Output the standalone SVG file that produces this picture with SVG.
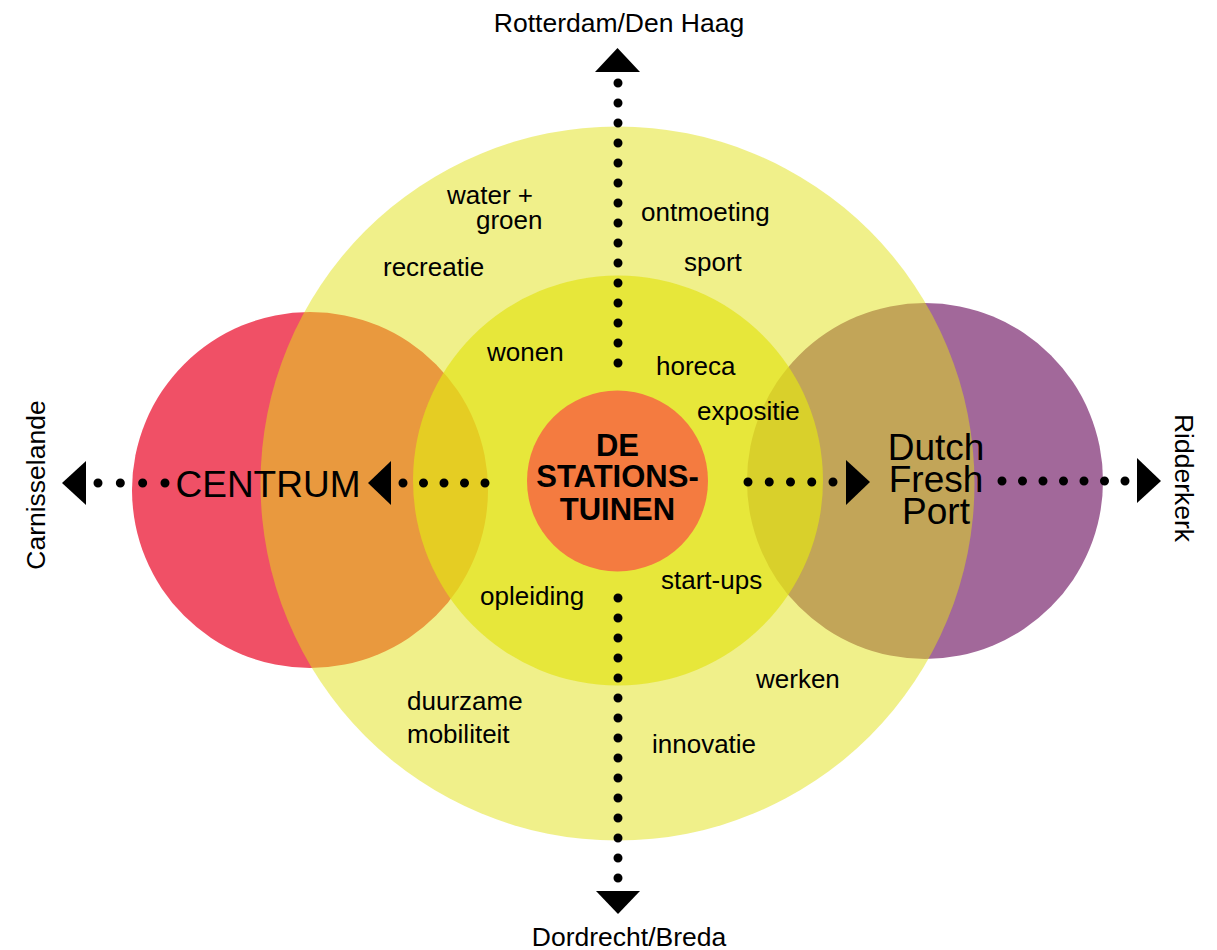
<svg xmlns="http://www.w3.org/2000/svg" width="1217" height="950" viewBox="0 0 1217 950">
<style>
text{font-family:"Liberation Sans",Arial,sans-serif;fill:#000}
.lbl{font-size:26px}
.end{font-size:26.5px}
.big{font-size:37px;text-anchor:middle}
.ctr{font-size:31px;font-weight:bold;text-anchor:middle}
.dots{stroke:#000;stroke-width:9;stroke-linecap:round;fill:none}
.head{fill:#000}
</style>
<rect width="1217" height="950" fill="#fff"/>
<g id="centrum">
<circle cx="310" cy="490" r="178" fill="#F05066"/>
</g>
<g id="dutch-fresh-port">
<circle cx="925" cy="481" r="178" fill="#A2689A"/>
</g>
<g id="outer-ring">
<circle cx="617.5" cy="483.5" r="357" fill="#E1E115" fill-opacity="0.5"/>
<text class="lbl" x="447" y="204">water +</text>
<text class="lbl" x="476" y="229">groen</text>
<text class="lbl" x="383" y="276">recreatie</text>
<text class="lbl" x="641" y="221">ontmoeting</text>
<text class="lbl" x="684" y="271">sport</text>
<text class="lbl" x="407" y="710">duurzame</text>
<text class="lbl" x="407" y="743">mobiliteit</text>
<text class="lbl" x="652" y="753">innovatie</text>
<text class="lbl" x="756" y="688">werken</text>
</g>
<g id="inner-ring">
<circle cx="618" cy="480.5" r="205" fill="#E3E318" fill-opacity="0.7"/>
<text class="lbl" x="487" y="361">wonen</text>
<text class="lbl" x="656" y="375">horeca</text>
<text class="lbl" x="697" y="420">expositie</text>
<text class="lbl" x="480" y="605">opleiding</text>
<text class="lbl" x="661" y="589">start-ups</text>
</g>
<g id="de-stationstuinen">
<circle cx="617.5" cy="481" r="90.5" fill="#F47B40"/>
<text class="ctr" x="617.5" y="456">DE</text>
<text class="ctr" x="617.5" y="487">STATIONS-</text>
<text class="ctr" x="617.5" y="520">TUINEN</text>
</g>
<g id="centrum-label">
<text class="big" x="268" y="497">CENTRUM</text>
</g>
<g id="dutch-fresh-port-label">
<text class="big" x="936" y="460">Dutch</text>
<text class="big" x="936" y="492">Fresh</text>
<text class="big" x="936" y="524">Port</text>
</g>
<g id="rotterdam">
<text class="end" x="619" y="32" text-anchor="middle">Rotterdam/Den Haag</text>
</g>
<g id="dordrecht">
<text class="end" x="629" y="946" text-anchor="middle">Dordrecht/Breda</text>
</g>
<g id="carnisselande">
<text class="end" transform="translate(45,485) rotate(-90)" text-anchor="middle">Carnisselande</text>
</g>
<g id="ridderkerk">
<text class="end" transform="translate(1175,478) rotate(90)" text-anchor="middle">Ridderkerk</text>
</g>
<g id="connectors">
<line class="dots" x1="618" y1="83" x2="618" y2="364" stroke-dasharray="0 20"/>
<polygon class="head" points="617.5,48 595,72 640,72"/>
<line class="dots" x1="618" y1="598" x2="618" y2="879" stroke-dasharray="0 20"/>
<polygon class="head" points="596,891 640,891 618,914"/>
<line class="dots" x1="98" y1="483" x2="166" y2="483" stroke-dasharray="0 22.33"/>
<polygon class="head" points="62,483 86,461 86,505"/>
<line class="dots" x1="403" y1="483" x2="486" y2="483" stroke-dasharray="0 20.5"/>
<polygon class="head" points="368,483 391,461 391,505"/>
<line class="dots" x1="748" y1="482" x2="834" y2="482" stroke-dasharray="0 21.25"/>
<polygon class="head" points="870,482 846,460 846,505"/>
<line class="dots" x1="1002" y1="481" x2="1126" y2="481" stroke-dasharray="0 20.5"/>
<polygon class="head" points="1161,481 1137,458 1137,503"/>
</g>
</svg>
